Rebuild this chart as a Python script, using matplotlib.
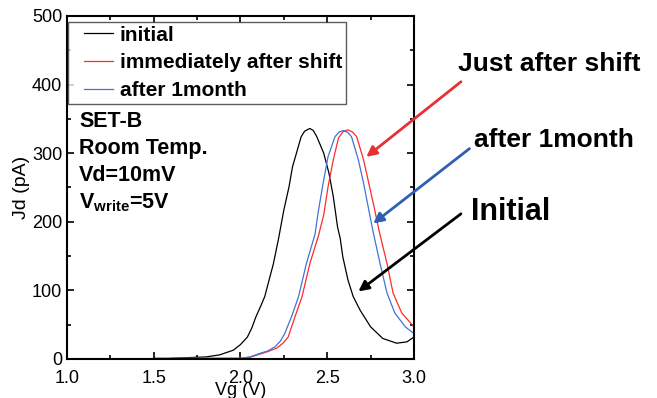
import numpy as np
import matplotlib.pyplot as plt
from matplotlib.ticker import MultipleLocator
from matplotlib.lines import Line2D
from matplotlib.legend_handler import HandlerLine2D

plt.rcParams['font.family'] = ['Liberation Sans', 'DejaVu Sans']

# %% Data (Vg in V, Id in pA)
vg_initial = [1.50, 1.60, 1.70, 1.80, 1.88, 1.96, 2.00, 2.04, 2.065, 2.09, 2.115, 2.14,
              2.19, 2.22, 2.25, 2.28, 2.30, 2.35, 2.37, 2.40, 2.42, 2.44, 2.48, 2.51,
              2.535, 2.56, 2.575, 2.59, 2.62, 2.65, 2.69, 2.75, 2.82, 2.90, 2.96, 3.00]
id_initial = [1, 1, 2, 3, 6, 13, 21, 32, 45, 62, 76, 91,
              139, 176, 217, 251, 280, 324, 332, 336, 333, 324, 300, 271,
              237, 192, 176, 149, 115, 91, 71, 47, 30, 23, 25, 32]

vg_shift = [1.60, 1.80, 2.00, 2.055, 2.11, 2.16, 2.21, 2.245, 2.275, 2.315, 2.355, 2.40,
            2.45, 2.48, 2.505, 2.535, 2.565, 2.59, 2.62, 2.645, 2.67, 2.71, 2.74, 2.77,
            2.80, 2.845, 2.88, 2.93, 3.00]
id_shift = [1, 1, 1, 2.5, 7, 11, 16, 23, 32, 62, 91, 139,
            180, 210, 251, 290, 322, 331, 334, 331, 324, 290, 256, 222,
            186, 139, 96, 67, 47]

vg_month = [1.60, 1.80, 2.00, 2.055, 2.11, 2.16, 2.20, 2.23, 2.255, 2.295, 2.335, 2.38,
            2.43, 2.45, 2.48, 2.505, 2.545, 2.57, 2.595, 2.62, 2.64, 2.68, 2.71, 2.74,
            2.765, 2.805, 2.845, 2.89, 2.95, 3.00]
id_month = [1, 1, 1, 3, 8, 12, 18, 26, 37, 62, 91, 139,
            182, 217, 261, 295, 324, 331, 333, 330, 324, 290, 256, 217,
            185, 139, 96, 67, 47, 37]

notes = ['SET-B', 'Room Temp.', 'Vd=10mV', r'V$_{\mathregular{write}}$=5V']

# %% Plot
fig = plt.figure(figsize=(6.57, 3.98), dpi=100)
ax = fig.add_axes([0.102, 0.098, 0.528, 0.862])

ax.plot(vg_initial, id_initial, color='black', lw=0.9, label='initial')
ax.plot(vg_shift, id_shift, color='#ff2a2a', lw=0.9, label='immediately after shift')
ax.plot(vg_month, id_month, color='#3f74d6', lw=0.9, label='after 1month')

ax.set_xlim(1.0, 3.0)
ax.set_ylim(0, 500)
ax.xaxis.set_major_locator(MultipleLocator(0.5))
ax.xaxis.set_minor_locator(MultipleLocator(0.25))
ax.yaxis.set_major_locator(MultipleLocator(100))
ax.yaxis.set_minor_locator(MultipleLocator(50))
ax.xaxis.set_major_formatter(plt.FormatStrFormatter('%.1f'))
ax.tick_params(which='both', direction='in', top=True, right=True, width=1.2,
               labelsize=13)
ax.tick_params(which='major', length=5)
ax.tick_params(which='minor', length=3)
ax.tick_params(axis='x', pad=8)
for s in ax.spines.values():
    s.set_linewidth(1.5)

ax.set_xlabel('Vg (V)', fontsize=13)
ax.xaxis.set_label_coords(0.5, -0.066)
ax.set_ylabel('Jd (pA)', fontsize=14)
ax.yaxis.set_label_coords(-0.107, 0.5)

leg = ax.legend(loc='upper left', bbox_to_anchor=(0.0, 0.986),
                prop={'weight': 'bold', 'size': 15}, frameon=True, fancybox=False,
                handlelength=2.0, handletextpad=0.3, borderpad=0.18, labelspacing=0.42,
                borderaxespad=0.05, handler_map={Line2D: HandlerLine2D(xpad=0.6)})
leg.get_frame().set_edgecolor('#333333')
leg.get_frame().set_linewidth(1.0)

for i, t in enumerate(notes):
    ax.text(0.035, 0.692 - i * 0.079, t, transform=ax.transAxes, fontsize=15.5,
            fontweight='bold', va='center', ha='left')

# arrows from labels outside the axes to the curves
arrows = [((2.713, 292), (0.705, 0.799), '#e83030'),
          ((2.753, 195), (0.718, 0.631), '#2f5fb5'),
          ((2.667, 96), (0.705, 0.467), 'black')]
for xy, start, c in arrows:
    ax.annotate('', xy=xy, xycoords='data', xytext=start, textcoords='figure fraction',
                arrowprops=dict(arrowstyle='-|>', color=c, lw=2, mutation_scale=15),
                annotation_clip=False)

fig.text(0.697, 0.840, 'Just after shift', fontsize=19, fontweight='bold', va='center')
fig.text(0.722, 0.648, 'after 1month', fontsize=19, fontweight='bold', va='center')
fig.text(0.717, 0.467, 'Initial', fontsize=22, fontweight='bold', va='center')

fig.savefig('out.png', dpi=100)
